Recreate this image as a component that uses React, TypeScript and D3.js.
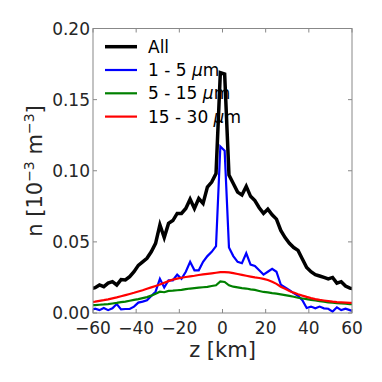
import React from 'react';
import * as d3 from 'd3';

const zKm: number[] = d3.range(-61, 62, 2);

const nAll: number[] = [
  0.017, 0.0178, 0.0197, 0.0185, 0.021, 0.022, 0.0197, 0.0235, 0.0232, 0.0255,
  0.029, 0.0335, 0.036, 0.0385, 0.043, 0.049, 0.062, 0.053, 0.063, 0.065,
  0.07, 0.07, 0.0735, 0.08, 0.0735, 0.0805, 0.077, 0.0885, 0.092, 0.098, 0.169,
  0.168, 0.097, 0.091, 0.085, 0.083, 0.089, 0.082, 0.079, 0.074, 0.07,
  0.073, 0.069, 0.066, 0.058, 0.053, 0.049, 0.046, 0.044, 0.038, 0.032,
  0.029, 0.027, 0.026, 0.025, 0.024, 0.025, 0.021, 0.022, 0.019, 0.0175, 0.017,
];

const n1to5: number[] = [
  0.002, 0.003, 0.002, 0.0035, 0.002, 0.0033, 0.0063, 0.0025, 0.0028, 0.0028,
  0.0045, 0.0073, 0.008, 0.009, 0.012, 0.015, 0.024, 0.018, 0.023, 0.023,
  0.027, 0.024, 0.029, 0.036, 0.03, 0.03, 0.036, 0.04, 0.043, 0.047, 0.117,
  0.114, 0.046, 0.04, 0.036, 0.035, 0.042, 0.034, 0.033, 0.03, 0.027,
  0.029, 0.031, 0.029, 0.02, 0.018, 0.016, 0.014, 0.012, 0.009, 0.0035,
  0.0045, 0.0033, 0.0045, 0.0033, 0.003, 0.001, 0.004, 0.002, 0.003, 0.002, 0.001,
];

const n5to15: number[] = [
  0.0055, 0.0056, 0.0058, 0.006, 0.0063, 0.0067, 0.0071, 0.0076, 0.008, 0.0086,
  0.0092, 0.0098, 0.0105, 0.0112, 0.0122, 0.0135, 0.015, 0.0146, 0.0155, 0.0157,
  0.016, 0.0163, 0.0168, 0.0172, 0.0175, 0.0178, 0.0181, 0.0184, 0.019, 0.0195, 0.0222,
  0.0218, 0.0195, 0.0185, 0.018, 0.0175, 0.0172, 0.0166, 0.0162, 0.0155, 0.0148,
  0.0145, 0.014, 0.0136, 0.0131, 0.0126, 0.012, 0.0114, 0.0107, 0.0102, 0.0097,
  0.0092, 0.0088, 0.0083, 0.0079, 0.0075, 0.0072, 0.0069, 0.0067, 0.0065, 0.0063, 0.0062,
];

const n15to30: number[] = [
  0.0077, 0.008, 0.0085, 0.009, 0.0096, 0.0103, 0.011, 0.0118, 0.0126, 0.0134,
  0.0142, 0.0151, 0.016, 0.017, 0.018, 0.019, 0.02, 0.0212, 0.0224, 0.0235,
  0.0242, 0.0248, 0.0253, 0.0258, 0.0262, 0.0267, 0.0271, 0.0275, 0.0279, 0.0283, 0.0287,
  0.0288, 0.0285, 0.028, 0.0274, 0.0268, 0.0262, 0.0256, 0.025, 0.0246, 0.024,
  0.0232, 0.022, 0.0205, 0.0185, 0.017, 0.0155, 0.0143, 0.0132, 0.0122, 0.0113,
  0.0105, 0.0098, 0.0092, 0.0088, 0.0084, 0.008, 0.0077, 0.0075, 0.0073, 0.0071, 0.007,
];

const xTicks: number[] = [-60, -40, -20, 0, 20, 40, 60];
const yTicks: number[] = [0, 0.05, 0.1, 0.15, 0.2];

const seriesNames: string[] = ['All', '1 - 5 ', '5 - 15 ', '15 - 30 '];
const seriesColors: string[] = ['#000000', '#0000ff', '#008000', '#ff0000'];
const seriesWidths: number[] = [3.5, 2.2, 2.2, 2.2];

const FONT = "'DejaVu Sans', sans-serif";

export default function App() {
  const W = 382;
  const H = 382;
  const left = 93;
  const right = 352;
  const top = 28.5;
  const bottom = 313;

  const x = d3.scaleLinear().domain([-60, 60]).range([left, right]);
  const y = d3.scaleLinear().domain([0, 0.2]).range([bottom, top]);

  const line = d3
    .line<number>()
    .x((_, i) => x(zKm[i]))
    .y((d) => y(d));

  const series = [nAll, n1to5, n5to15, n15to30];
  const tickLen = 4;
  const axisColor = '#888888';
  const textColor = '#262626';

  return (
    <svg
      width={W}
      height={H}
      style={{ position: 'absolute', left: 0, top: 0, background: '#fff' }}
      fontFamily={FONT}
    >
      <defs>
        <clipPath id="plotClip">
          <rect x={left} y={top} width={right - left} height={bottom - top} />
        </clipPath>
      </defs>
      <rect x={0} y={0} width={W} height={H} fill="#fff" />

      <g clipPath="url(#plotClip)">
        {series.map((s, k) => (
          <path
            key={k}
            d={line(s) || ''}
            fill="none"
            stroke={seriesColors[k]}
            strokeWidth={seriesWidths[k]}
            strokeLinejoin="miter"
            strokeMiterlimit={4}
          />
        ))}
      </g>

      {/* ticks */}
      {xTicks.map((t) => (
        <g key={'xt' + t}>
          <line x1={x(t)} x2={x(t)} y1={bottom} y2={bottom - tickLen} stroke={axisColor} strokeWidth={1} />
          <line x1={x(t)} x2={x(t)} y1={top} y2={top + tickLen} stroke={axisColor} strokeWidth={1} />
          <text
            x={x(t)}
            y={333.5}
            textAnchor="middle"
            fontSize={17}
            fill={textColor}
          >
            {t < 0 ? '\u2212' + Math.abs(t) : String(t)}
          </text>
        </g>
      ))}
      {yTicks.map((t) => (
        <g key={'yt' + t}>
          <line x1={left} x2={left + tickLen} y1={y(t)} y2={y(t)} stroke={axisColor} strokeWidth={1} />
          <line x1={right} x2={right - tickLen} y1={y(t)} y2={y(t)} stroke={axisColor} strokeWidth={1} />
          <text
            x={90}
            y={y(t)}
            dy="0.36em"
            textAnchor="end"
            fontSize={17}
            fill={textColor}
          >
            {t.toFixed(2)}
          </text>
        </g>
      ))}

      <rect
        x={left}
        y={top}
        width={right - left}
        height={bottom - top}
        fill="none"
        stroke={axisColor}
        strokeWidth={1}
      />

      {/* axis labels */}
      <text x={(left + right) / 2} y={357} textAnchor="middle" fontSize={21} fill={textColor}>
        z [km]
      </text>
      <text
        transform={`translate(42,171) rotate(-90)`}
        textAnchor="middle"
        fontSize={21}
        fill={textColor}
      >
        n [10
        <tspan dy={-8} fontSize={14}>{'\u22123'}</tspan>
        <tspan dy={8}> m</tspan>
        <tspan dy={-8} fontSize={14}>{'\u22123'}</tspan>
        <tspan dy={8}>]</tspan>
      </text>

      {/* legend */}
      {seriesNames.map((name, k) => {
        const ly = 46.7 + k * 23.3;
        return (
          <g key={'lg' + k}>
            <line
              x1={105}
              x2={137}
              y1={ly}
              y2={ly}
              stroke={seriesColors[k]}
              strokeWidth={seriesWidths[k]}
            />
            <text x={148} y={ly} dy="0.36em" fontSize={17} fill="#000">
              {name}
              {k > 0 ? <tspan fontStyle="italic">{'\u03bc'}</tspan> : null}
              {k > 0 ? 'm' : null}
            </text>
          </g>
        );
      })}
    </svg>
  );
}
